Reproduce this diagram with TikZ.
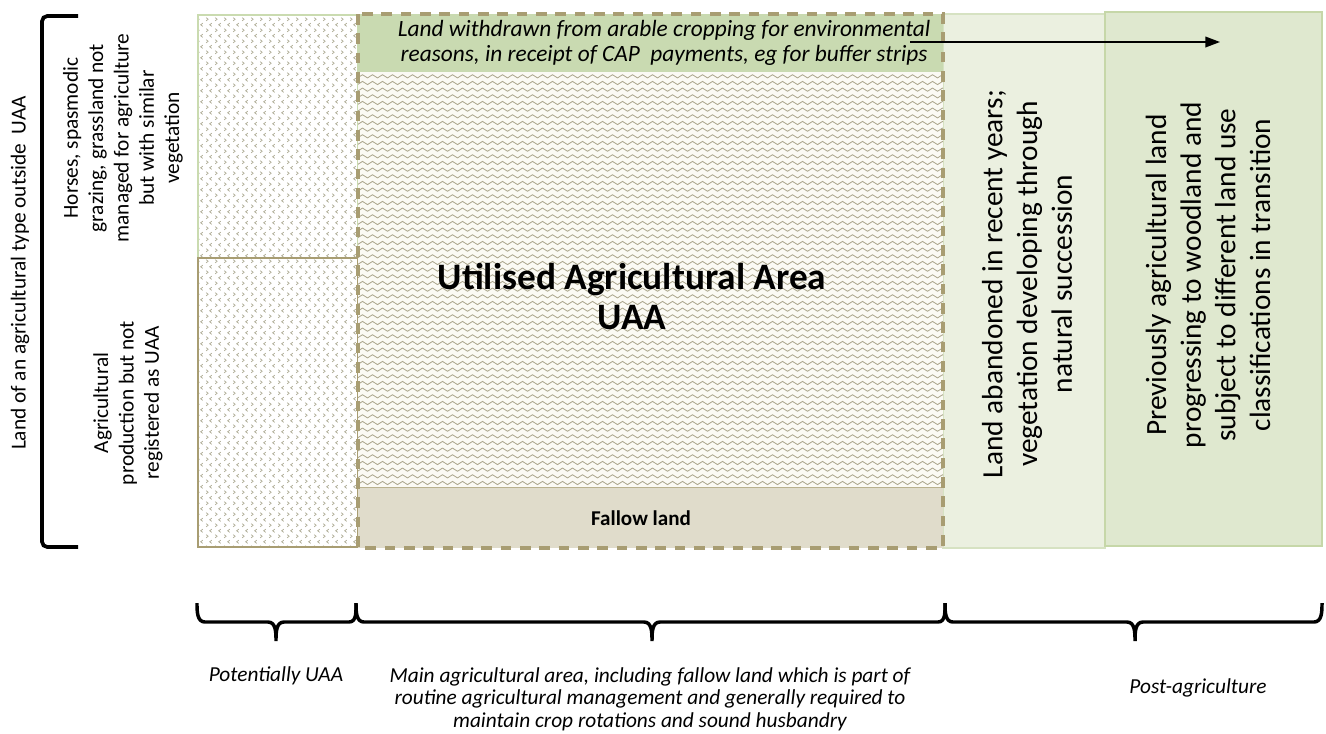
\documentclass[tikz,border=0pt]{standalone}
\usepackage{fontspec}
\setmainfont{Carlito}
\usetikzlibrary{patterns,arrows.meta}

\pgfdeclarepatternformonly{wavy}{\pgfqpoint{-0.5pt}{-0.5pt}}{\pgfqpoint{8pt}{5.5pt}}{\pgfqpoint{7.5pt}{5pt}}{%
 \pgfsetlinewidth{0.6pt}%
 \pgfpathmoveto{\pgfqpoint{0pt}{2.5pt}}%
 \pgfpathcurveto{\pgfqpoint{1.25pt}{4.1pt}}{\pgfqpoint{2.5pt}{4.1pt}}{\pgfqpoint{3.75pt}{2.5pt}}%
 \pgfpathcurveto{\pgfqpoint{5pt}{0.9pt}}{\pgfqpoint{6.25pt}{0.9pt}}{\pgfqpoint{7.5pt}{2.5pt}}%
 \pgfusepath{stroke}}

\pgfdeclarepatternformonly{chev}{\pgfqpoint{0pt}{0pt}}{\pgfqpoint{6.4pt}{8.6pt}}{\pgfqpoint{6.4pt}{8.6pt}}{%
 \pgfsetlinewidth{0.55pt}%
 \pgfpathmoveto{\pgfqpoint{0.9pt}{0.9pt}}\pgfpathlineto{\pgfqpoint{2.5pt}{2.15pt}}\pgfpathlineto{\pgfqpoint{0.9pt}{3.4pt}}%
 \pgfpathmoveto{\pgfqpoint{5.3pt}{5.2pt}}\pgfpathlineto{\pgfqpoint{3.7pt}{6.45pt}}\pgfpathlineto{\pgfqpoint{5.3pt}{7.7pt}}%
 \pgfusepath{stroke}}

\definecolor{olivec}{HTML}{A89D72}
\definecolor{lgborder}{HTML}{CADBB0}
\definecolor{stripc}{HTML}{C9DAB1}
\definecolor{abandc}{HTML}{EBF0E0}
\definecolor{abandb}{HTML}{D6E2C2}
\definecolor{prevc}{HTML}{DFE8CF}
\definecolor{prevb}{HTML}{C6D7A8}
\definecolor{fallowc}{HTML}{E0DCCB}
\definecolor{wavec}{HTML}{ABA58C}
\definecolor{chevc}{HTML}{AEAC94}
\definecolor{creamc}{HTML}{FBFAF4}

\tikzset{
  lefttxt/.style={rotate=90, align=center, font=\fontsize{16}{19}\selectfont},
  bigtxt/.style={rotate=90, align=center, font=\fontsize{22}{26}\selectfont},
  bottxt/.style={align=center, font=\fontsize{16}{17}\selectfont\itshape},
  bracestyle/.style={line width=2.6pt, black},
}

\begin{document}
\begin{tikzpicture}[x=0.75pt,y=-0.75pt]
\useasboundingbox (0,0) rectangle (1326,733);
\fill[white] (0,0) rectangle (1326,733);

% left column
\path[pattern=chev, pattern color=chevc] (198,15) rectangle (357,547);
\draw[lgborder, line width=2.2pt] (198,15) rectangle (358,258);
\draw[olivec, line width=2.2pt] (198,258) rectangle (358,547);

% land abandoned and previously
\filldraw[fill=abandc, draw=abandb, line width=2pt] (943,14) rectangle (1105,548);
\filldraw[fill=prevc, draw=prevb, line width=2.2pt] (1105,12) rectangle (1322,546);

% main UAA box
\fill[stripc] (358,14) rectangle (943,72);
\fill[creamc] (358,72) rectangle (943,487);
\path[pattern=wavy, pattern color=wavec] (358,72) rectangle (943,487);
\fill[fallowc] (358,487) rectangle (943,548);
\draw[olivec!80, line width=0.6pt] (358,487) -- (943,487);
\draw[olivec, line width=2.6pt, dash pattern=on 8pt off 6.5pt] (358,14) rectangle (943,548);

% arrow
\coordinate (a1) at (910,42);
\coordinate (a2) at (1220,42);
\draw[line width=1.2pt, -{Triangle[length=11pt,width=8pt]}] (a1) -- (a2);

% texts inside
\node[align=center, font=\fontsize{17.5}{19}\selectfont\itshape] (strip) at (664,43)
  {Land withdrawn from arable cropping for environmental\\reasons, in receipt of CAP\ \ payments, eg for buffer strips};
\node[align=center, font=\fontsize{28}{30}\selectfont\bfseries] (uaa) at (632,297)
  {Utilised Agricultural Area\\UAA};
\node[font=\fontsize{15.8}{17}\selectfont\bfseries] (fallow) at (641,518) {Fallow land};

\node[bigtxt] (aband) at (1027,284)
  {Land abandoned in recent years;\\vegetation developing through\\natural succession};
\node[bigtxt] (prev) at (1208,275)
  {Previously agricultural land\\progressing to woodland and\\subject to different land use\\classifications in transition};

% left texts
\node[lefttxt] (outside) at (20,273) {Land of an agricultural type outside\ \ UAA};
\node[lefttxt] (horses) at (123,138)
  {Horses, spasmodic\\grazing, grassland not\\managed for agriculture\\but with similar\\vegetation};
\node[lefttxt] (agri) at (128,403)
  {Agricultural\\production but not\\registered as UAA};

% left bracket
\draw[line width=2.8pt, rounded corners=4pt] (78,16) -- (42,16) -- (42,547) -- (78,547);

% bottom braces
\draw[bracestyle] (197,603) to[out=-90,in=180] (205,622) -- (268,622)
  to[out=0,in=90] (276,641) to[out=90,in=180] (284,622) -- (349,622) to[out=0,in=-90] (356,603);
\draw[bracestyle] (356,603) to[out=-90,in=180] (364,622) -- (644,622)
  to[out=0,in=90] (652,641) to[out=90,in=180] (660,622) -- (938,622) to[out=0,in=-90] (945,603);
\draw[bracestyle] (945,603) to[out=-90,in=180] (953,622) -- (1127,622)
  to[out=0,in=90] (1135,641) to[out=90,in=180] (1143,622) -- (1314,622) to[out=0,in=-90] (1322,603);

% bottom texts
\node[bottxt] (pot) at (276,676) {Potentially UAA};
\node[bottxt] (mainarea) at (650,699)
  {Main agricultural area, including fallow land which is part of\\routine agricultural management and generally required to\\maintain crop rotations and sound husbandry};
\node[bottxt] (post) at (1198,688) {Post-agriculture};
\end{tikzpicture}
\end{document}
